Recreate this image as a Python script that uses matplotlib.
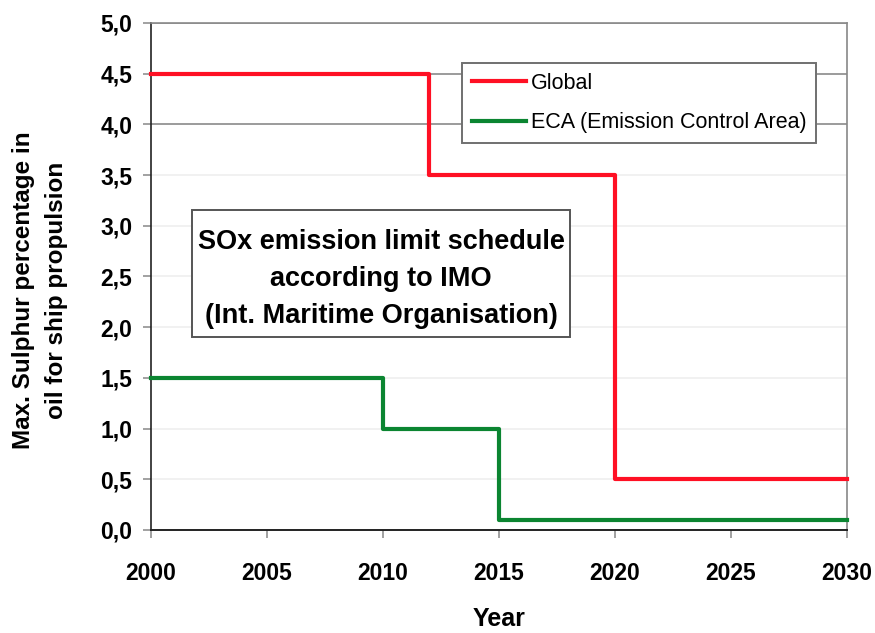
import matplotlib
matplotlib.use("Agg")
import matplotlib.pyplot as plt
from matplotlib.patches import Rectangle

plt.rcParams['font.family'] = ['Liberation Sans', 'DejaVu Sans']

# ---- data ----
global_years = [2000, 2012, 2020, 2030]
global_limit = [4.5, 3.5, 0.5, 0.5]
eca_years = [2000, 2010, 2015, 2030]
eca_limit = [1.5, 1.0, 0.1, 0.1]
x_ticks = [2000, 2005, 2010, 2015, 2020, 2025, 2030]
y_ticks = [0.0, 0.5, 1.0, 1.5, 2.0, 2.5, 3.0, 3.5, 4.0, 4.5, 5.0]
y_tick_labels = ['0,0', '0,5', '1,0', '1,5', '2,0', '2,5', '3,0', '3,5', '4,0', '4,5', '5,0']
series_labels = ['Global', 'ECA (Emission Control Area)']
box_text = 'SOx emission limit schedule\naccording to IMO\n(Int. Maritime Organisation)'

W, H = 875, 633
fig = plt.figure(figsize=(W / 100, H / 100), dpi=100)
L, R, T, B = 151, 847, 23, 530
ax = fig.add_axes([L / W, 1 - B / H, (R - L) / W, (B - T) / H])

red = '#ff1024'
green = '#0b8531'
ax.step(global_years, global_limit, where='post', color=red, lw=3.0,
        label=series_labels[0], zorder=3, clip_on=False)
ax.step(eca_years, eca_limit, where='post', color=green, lw=3.0,
        label=series_labels[1], zorder=3, clip_on=False)

ax.set_xlim(2000, 2030)
ax.set_ylim(0, 5)
ax.set_xticks(x_ticks)
ax.set_yticks(y_ticks)
ax.set_yticklabels(y_tick_labels)

for lab in ax.get_xticklabels() + ax.get_yticklabels():
    lab.set_fontweight('bold')
ax.tick_params(axis='both', direction='out', length=6, width=1.1,
               color='#888888', labelsize=16.5, labelcolor='black')
ax.tick_params(axis='x', pad=17)
ax.tick_params(axis='y', pad=7.5)

# grid
ax.yaxis.grid(True, lw=1.2)
for val, gl in zip(y_ticks, ax.get_ygridlines()):
    gl.set_color('#8a8a8a' if val >= 4.0 else '#efefef')
ax.set_axisbelow(True)

ax.spines['left'].set_color('#222222')
ax.spines['bottom'].set_color('#222222')
ax.spines['left'].set_linewidth(1.2)
ax.spines['bottom'].set_linewidth(1.4)
ax.spines['right'].set_color('#888888')
ax.spines['top'].set_color('#8a8a8a')
ax.spines['right'].set_linewidth(1.2)
ax.spines['top'].set_linewidth(1.2)

# legend
leg = ax.legend(loc='upper left', bbox_to_anchor=(0.447, 0.921),
                borderaxespad=0, fontsize=15.5, frameon=True, fancybox=False,
                handlelength=2.5, handletextpad=0.25, labelspacing=0.85,
                borderpad=0.45)
leg.get_frame().set_edgecolor('#707070')
leg.get_frame().set_linewidth(1.4)
leg.get_frame().set_alpha(1)

# text box
x0, x1 = (192 - L) / (R - L), (570 - L) / (R - L)
y0, y1 = (B - 337) / (B - T), (B - 210) / (B - T)
ax.add_patch(Rectangle((x0, y0), x1 - x0, y1 - y0, transform=ax.transAxes,
                       facecolor='white', edgecolor='#555555', lw=1.4, zorder=4))
ax.text((x0 + x1) / 2, (B - 279) / (B - T), box_text, transform=ax.transAxes,
        ha='center', va='center', fontsize=19.5, fontweight='bold',
        linespacing=1.55, zorder=5)

# axis labels
fig.text(40 / W, 1 - 290 / H, 'Max. Sulphur percentage in\noil for ship propulsion',
         rotation=90, ha='center', va='center', fontsize=17.5, fontweight='bold',
         linespacing=1.55, multialignment='center')
fig.text(499 / W, 1 - 619 / H, 'Year', ha='center', va='center',
         fontsize=18, fontweight='bold')

fig.savefig('out.png', dpi=100)
